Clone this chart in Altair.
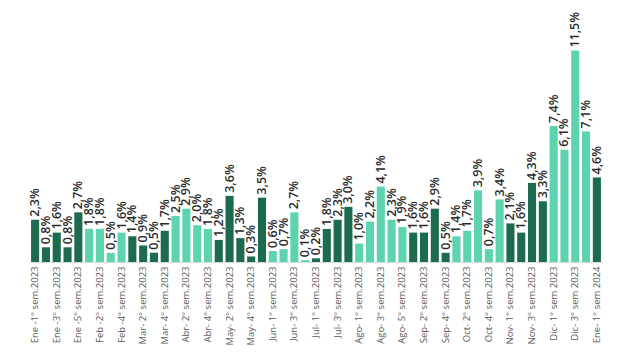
import altair as alt
import pandas as pd

weeks = [
    "Ene -1° sem.2023", "Ene -2° sem.2023", "Ene -3° sem.2023", "Ene -4° sem.2023", "Ene -5° sem.2023",
    "Feb -1° sem.2023", "Feb -2° sem.2023", "Feb -3° sem.2023", "Feb -4° sem.2023",
    "Mar- 1° sem.2023", "Mar- 2° sem.2023", "Mar- 3° sem.2023", "Mar- 4° sem.2023",
    "Abr- 1° sem.2023", "Abr- 2° sem.2023", "Abr- 3° sem.2023", "Abr- 4° sem.2023",
    "May- 1° sem.2023", "May- 2° sem.2023", "May- 3° sem.2023", "May- 4° sem.2023", "May- 5° sem.2023",
    "Jun- 1° sem.2023", "Jun- 2° sem.2023", "Jun- 3° sem.2023", "Jun- 4° sem.2023",
    "Jul- 1° sem.2023", "Jul- 2° sem.2023", "Jul- 3° sem.2023", "Jul- 4° sem.2023",
    "Ago- 1° sem.2023", "Ago- 2° sem.2023", "Ago- 3° sem.2023", "Ago- 4° sem.2023", "Ago- 5° sem.2023",
    "Sep- 1° sem.2023", "Sep- 2° sem.2023", "Sep- 3° sem.2023", "Sep- 4° sem.2023",
    "Oct- 1° sem.2023", "Oct- 2° sem.2023", "Oct- 3° sem.2023", "Oct- 4° sem.2023", "Oct- 5° sem.2023",
    "Nov- 1° sem.2023", "Nov- 2° sem.2023", "Nov- 3° sem.2023", "Nov- 4° sem.2023",
    "Dic- 1° sem 2023", "Dic- 2° sem 2023", "Dic- 3° sem 2023", "Dic- 4° sem 2023",
    "Ene- 1° sem 2024",
]

values = [
    2.3, 0.8, 1.6, 0.8, 2.7,
    1.8, 1.8, 0.5, 1.6,
    1.4, 0.9, 0.5, 1.7,
    2.5, 2.9, 2.0, 1.8,
    1.2, 3.6, 1.3, 0.3, 3.5,
    0.6, 0.7, 2.7, 0.1,
    0.2, 1.8, 2.3, 3.0,
    1.0, 2.2, 4.1, 2.3, 1.9,
    1.6, 1.6, 2.9, 0.5,
    1.4, 1.7, 3.9, 0.7, 3.4,
    2.1, 1.6, 4.3, 3.3,
    7.4, 6.1, 11.5, 7.1,
    4.6,
]

# month group: alternating shade per month
month_sizes = [5, 4, 4, 4, 5, 4, 4, 5, 4, 5, 4, 4, 1]
groups = []
for i, n in enumerate(month_sizes):
    groups += ["oscuro" if i % 2 == 0 else "claro"] * n

shown_labels = weeks[::2]

df = pd.DataFrame({"semana": weeks, "valor": values, "grupo": groups})

base = alt.Chart(df).encode(
    x=alt.X(
        "semana:N",
        sort=weeks,
        scale=alt.Scale(paddingInner=0.25, paddingOuter=0.1),
        axis=alt.Axis(
            title=None,
            values=shown_labels,
            labelAngle=-90,
            labelAlign="right",
            labelBaseline="middle",
            labelFont="Open Sans",
            labelFontSize=9.5,
            labelColor="#595959",
            labelPadding=4,
            ticks=False,
            grid=False,
            domainColor="#d9d9d9",
            domainWidth=1,
        ),
    ),
    y=alt.Y(
        "valor:Q",
        scale=alt.Scale(domain=[0, 13]),
        axis=alt.Axis(title=None, labels=False, ticks=False, domain=False, grid=False),
    ),
)

bars = base.mark_bar().encode(
    color=alt.Color(
        "grupo:N",
        scale=alt.Scale(domain=["oscuro", "claro"], range=["#1C6B4F", "#5ED3AF"]),
        legend=None,
    )
)

labels = base.mark_text(
    angle=270,
    align="left",
    baseline="middle",
    dx=3,
    font="Open Sans",
    fontSize=12.5,
    fontWeight=600,
    color="#2b2b2b",
).encode(
    text=alt.Text("lbl:N")
).transform_calculate(
    lbl="replace(format(datum.valor, '.1f'), '.', ',') + '%'"
)

chart = (
    alt.layer(bars, labels, view=alt.ViewBackground(stroke="transparent", strokeWidth=0))
    .properties(
        width=572,
        height=239,
        padding={"left": 22, "top": 15, "right": 2, "bottom": 90},
        autosize=alt.AutoSizeParams(type="none"),
    )
    .configure_view(stroke="transparent", strokeWidth=0, strokeOpacity=0)
    .configure(background="white")
)

chart.save("out.html", embed_options={"renderer": "svg", "actions": False})
